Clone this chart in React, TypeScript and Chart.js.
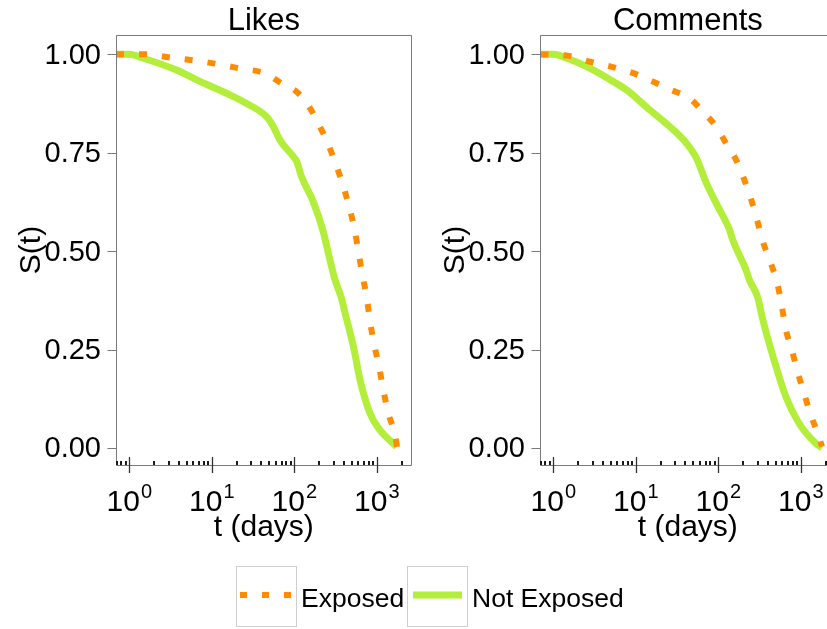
import React, { useEffect, useRef } from 'react';
import { Chart, registerables } from 'chart.js';

Chart.register(...registerables);

const FONT = '"Liberation Sans", Arial, Helvetica, sans-serif';
const ORANGE = '#FF8C00';
const GREEN = '#B3EE3A';

const panelTitles = ['Likes', 'Comments'];
const seriesLabels = ['Exposed', 'Not Exposed'];
const xAxisTitle = 't (days)';
const yAxisTitle = 'S(t)';

// Likes panel
const likesExposedT = [0.69, 1.55, 3.11, 6.25, 12.0, 23.0, 44.0, 70.1, 112, 155, 205, 259, 321, 393, 461, 535, 598, 669, 756, 829, 935, 1075, 1202, 1381, 1667, 1765];
const likesExposedS = [1.0, 1.0, 0.992, 0.984, 0.975, 0.963, 0.952, 0.926, 0.901, 0.863, 0.816, 0.77, 0.719, 0.665, 0.613, 0.558, 0.499, 0.44, 0.382, 0.321, 0.261, 0.202, 0.147, 0.088, 0.033, 0.0];
const likesNotExposedT = [0.69, 1.0, 1.48, 3.75, 6.56, 15.1, 26.5, 46.3, 55.8, 67.1, 97.4, 107, 122, 170, 222, 271, 312, 376, 413, 522, 626, 827, 1096, 1743];
const likesNotExposedS = [1.0, 1.0, 0.99, 0.96, 0.935, 0.901, 0.875, 0.841, 0.816, 0.782, 0.74, 0.728, 0.69, 0.625, 0.553, 0.477, 0.427, 0.378, 0.342, 0.257, 0.173, 0.088, 0.045, 0.003];

// Comments panel
const commentsExposedT = [0.7, 1.54, 2.81, 5.13, 9.36, 16.3, 27.2, 45.2, 65.1, 94.5, 124, 165, 207, 251, 299, 347, 434, 525, 590, 660, 779, 912, 1096, 1318, 1631, 1810];
const commentsExposedS = [1.0, 0.996, 0.981, 0.968, 0.952, 0.93, 0.909, 0.888, 0.854, 0.816, 0.774, 0.731, 0.681, 0.63, 0.575, 0.524, 0.469, 0.414, 0.359, 0.3, 0.249, 0.194, 0.139, 0.084, 0.033, 0.003];
const commentsNotExposedT = [0.7, 1.0, 1.47, 2.81, 4.91, 7.8, 14.9, 25.9, 41.1, 54.4, 71.9, 99, 137, 150, 217, 238, 299, 347, 475, 660, 955, 1514, 1810];
const commentsNotExposedS = [1.0, 1.0, 0.99, 0.964, 0.935, 0.909, 0.858, 0.816, 0.774, 0.736, 0.672, 0.613, 0.554, 0.528, 0.452, 0.427, 0.384, 0.325, 0.223, 0.13, 0.062, 0.012, 0.0];

// Axes
const yTicks = [0, 0.25, 0.5, 0.75, 1];
const yTickLabels = ['0.00', '0.25', '0.50', '0.75', '1.00'];
const xMajorTicks = [1, 10, 100, 1000];
const xMajorExponents = ['0', '1', '2', '3'];
const xMinorTicks = [0.7, 0.8, 0.9, 2, 3, 4, 5, 6, 7, 8, 9, 20, 30, 40, 50, 60, 70, 80, 90, 200, 300, 400, 500, 600, 700, 800, 900, 2000];
const xMin = 0.69;
const xMax = 2650;
const yMin = -0.0434;
const yMax = 1.049;

const CW = 424;
const CH = 560;

function pts(t: number[], s: number[]) {
  return t.map((v, i) => ({ x: v, y: s[i] }));
}

function makeAxesPlugin(title: string) {
  return {
    id: 'panelAxes',
    afterDatasetsDraw(chart: any) {
      const { ctx, chartArea: a, scales } = chart;
      const xs = scales.x;
      const ys = scales.y;
      const L = Math.floor(a.left) + 0.5;
      const R = Math.floor(a.right) + 0.5;
      const T = Math.floor(a.top) + 0.5;
      const B = Math.floor(a.bottom) + 0.5;
      ctx.save();
      // box
      ctx.strokeStyle = '#7a7a7a';
      ctx.lineWidth = 1;
      ctx.beginPath();
      ctx.rect(L, T, R - L, B - T);
      ctx.stroke();

      // y ticks
      ctx.fillStyle = '#000';
      ctx.font = `29px ${FONT}`;
      ctx.textAlign = 'right';
      ctx.textBaseline = 'middle';
      yTicks.forEach((v, i) => {
        const py = ys.getPixelForValue(v);
        const yy = Math.round(py) + 0.5;
        ctx.beginPath();
        ctx.moveTo(L - 9, yy);
        ctx.lineTo(L, yy);
        ctx.stroke();
        ctx.fillText(yTickLabels[i], a.left - 15, py + 1.5);
      });

      // x minor ticks
      ctx.fillStyle = '#1a1a1a';
      xMinorTicks.forEach((v) => {
        const px = xs.getPixelForValue(v);
        if (px < a.left || px > a.right) return;
        ctx.fillRect(Math.round(px) - 1, Math.floor(a.bottom) - 4, 2, 4);
      });

      // x major ticks + labels
      ctx.strokeStyle = '#333';
      ctx.lineWidth = 1.3;
      xMajorTicks.forEach((v, i) => {
        const px = xs.getPixelForValue(v);
        const xx = Math.round(px) + 0.5;
        ctx.beginPath();
        ctx.moveTo(xx, a.bottom - 8);
        ctx.lineTo(xx, a.bottom + 8);
        ctx.stroke();
        ctx.fillStyle = '#000';
        ctx.textAlign = 'left';
        ctx.textBaseline = 'alphabetic';
        ctx.font = `30px ${FONT}`;
        const wb = ctx.measureText('10').width;
        ctx.font = `20px ${FONT}`;
        const we = ctx.measureText(xMajorExponents[i]).width;
        const x0 = px - (wb + 1 + we) / 2;
        ctx.font = `30px ${FONT}`;
        ctx.fillText('10', x0, a.bottom + 46);
        ctx.font = `20px ${FONT}`;
        ctx.fillText(xMajorExponents[i], x0 + wb + 1, a.bottom + 33);
      });

      // axis titles
      const cx = (a.left + a.right) / 2;
      const cy = (a.top + a.bottom) / 2;
      ctx.fillStyle = '#000';
      ctx.font = `30px ${FONT}`;
      ctx.textAlign = 'center';
      ctx.textBaseline = 'middle';
      ctx.fillText(xAxisTitle, cx, a.bottom + 63);

      ctx.save();
      ctx.translate(a.left - 84, cy);
      ctx.rotate(-Math.PI / 2);
      ctx.fillText(yAxisTitle, 0, 0);
      ctx.restore();

      // panel title
      ctx.font = `31px ${FONT}`;
      ctx.textBaseline = 'alphabetic';
      ctx.fillText(title, cx, a.top - 5);
      ctx.restore();
    },
  };
}

type PanelProps = {
  title: string;
  exT: number[];
  exS: number[];
  neT: number[];
  neS: number[];
  left: number;
};

function Panel({ title, exT, exS, neT, neS, left }: PanelProps) {
  const ref = useRef<HTMLCanvasElement | null>(null);
  useEffect(() => {
    if (!ref.current) return;
    const chart = new Chart(ref.current, {
      type: 'line',
      data: {
        datasets: [
          {
            label: seriesLabels[0],
            data: pts(exT, exS),
            borderColor: ORANGE,
            backgroundColor: ORANGE,
            borderWidth: 6,
            borderDash: [8, 15],
            borderCapStyle: 'butt',
            cubicInterpolationMode: 'monotone',
            pointRadius: 0,
            fill: false,
          },
          {
            label: seriesLabels[1],
            data: pts(neT, neS),
            borderColor: GREEN,
            backgroundColor: GREEN,
            borderWidth: 7,
            borderJoinStyle: 'round',
            borderCapStyle: 'butt',
            cubicInterpolationMode: 'monotone',
            pointRadius: 0,
            fill: false,
          },
        ],
      },
      options: {
        responsive: false,
        maintainAspectRatio: false,
        animation: false,
        events: [],
        layout: { padding: { left: 116, top: 35, right: CW - 411.7, bottom: CH - 465 } },
        plugins: {
          legend: { display: false },
          tooltip: { enabled: false },
          title: { display: false },
        },
        scales: {
          x: { type: 'logarithmic', min: xMin, max: xMax, display: false },
          y: { type: 'linear', min: yMin, max: yMax, display: false },
        },
      },
      plugins: [makeAxesPlugin(title)],
    } as any);
    return () => chart.destroy();
  }, [title, exT, exS, neT, neS]);
  return (
    <canvas
      ref={ref}
      width={CW}
      height={CH}
      style={{ position: 'absolute', left, top: 0, width: CW, height: CH }}
    />
  );
}

export default function App() {
  return (
    <div
      style={{
        position: 'fixed',
        left: 0,
        top: 0,
        width: 827,
        height: 629,
        overflow: 'hidden',
        background: '#fff',
      }}
    >
      <Panel title={panelTitles[0]} exT={likesExposedT} exS={likesExposedS} neT={likesNotExposedT} neS={likesNotExposedS} left={0} />
      <Panel title={panelTitles[1]} exT={commentsExposedT} exS={commentsExposedS} neT={commentsNotExposedT} neS={commentsNotExposedS} left={424} />
      <svg
        width={827}
        height={629}
        style={{ position: 'absolute', left: 0, top: 0, pointerEvents: 'none' }}
      >
        <rect x={236.5} y={566.5} width={60} height={60} fill="#fff" stroke="#cfcfcf" strokeWidth={1} />
        <line x1={240} y1={595} x2={292} y2={595} stroke={ORANGE} strokeWidth={6} strokeDasharray="7 15" />
        <text x={301} y={606.5} fontSize={26.5} fontFamily={FONT} fill="#000">{seriesLabels[0]}</text>
        <rect x={407.5} y={566.5} width={60} height={60} fill="#fff" stroke="#cfcfcf" strokeWidth={1} />
        <line x1={413} y1={595} x2={462} y2={595} stroke={GREEN} strokeWidth={7} />
        <text x={472} y={606.5} fontSize={26.5} fontFamily={FONT} fill="#000">{seriesLabels[1]}</text>
      </svg>
    </div>
  );
}
